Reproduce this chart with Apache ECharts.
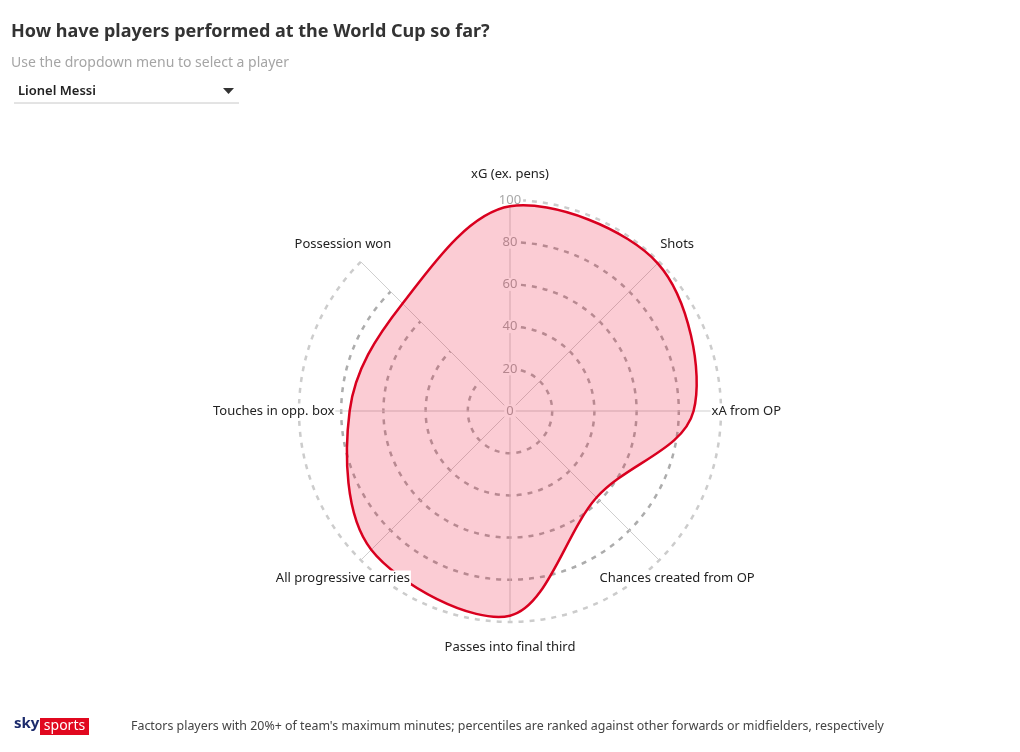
<!DOCTYPE html>
<html>
<head>
<meta charset="utf-8">
<script src="https://cdn.jsdelivr.net/npm/echarts@6/dist/echarts.min.js"></script>
<style>
  html, body { margin: 0; padding: 0; background: #fff; }
  #chart { width: 1020px; height: 752px; }
</style>
</head>
<body>
<div id="chart"></div>
<script>
// percentiles for Lionel Messi, read clockwise from the top
var categories = ['xG (ex. pens)', 'Shots', 'xA from OP', 'Chances created from OP',
  'Passes into final third', 'All progressive carries', 'Touches in opp. box', 'Possession won'];
var values = [97, 99, 87, 58, 97, 93, 76, 72];
var radiusTicks = [0, 20, 40, 60, 80, 100];

var font = "'Noto Sans', 'Open Sans', sans-serif";
var chart = echarts.init(document.getElementById('chart'));

// closed catmull-rom through the projected points
function closedCurve(pts) {
  var n = pts.length;
  var d = 'M' + pts[0][0] + ',' + pts[0][1];
  for (var i = 0; i < n; i++) {
    var p0 = pts[(i - 1 + n) % n], p1 = pts[i], p2 = pts[(i + 1) % n], p3 = pts[(i + 2) % n];
    var c1x = p1[0] + (p2[0] - p0[0]) / 6, c1y = p1[1] + (p2[1] - p0[1]) / 6;
    var c2x = p2[0] - (p3[0] - p1[0]) / 6, c2y = p2[1] - (p3[1] - p1[1]) / 6;
    d += 'C' + c1x + ',' + c1y + ' ' + c2x + ',' + c2y + ' ' + p2[0] + ',' + p2[1];
  }
  return d + 'Z';
}

var option = {
  backgroundColor: '#fff',
  animation: false,
  title: {
    text: 'How have players performed at the World Cup so far?',
    subtext: 'Use the dropdown menu to select a player',
    left: 6,
    top: 18,
    itemGap: 15,
    textStyle: { fontFamily: font, fontSize: 18, fontWeight: 'bold', color: '#333' },
    subtextStyle: { fontFamily: font, fontSize: 14, color: '#a5a5a5' }
  },
  polar: { center: [510, 411], radius: 211 },
  angleAxis: {
    type: 'category',
    data: categories,
    startAngle: 90,
    boundaryGap: false,
    axisLine: { show: false },
    axisTick: { show: false },
    axisLabel: { show: false },
    splitLine: { show: true, lineStyle: { color: '#cfcfcf', width: 1 } }
  },
  radiusAxis: {
    type: 'value',
    min: radiusTicks[0],
    max: radiusTicks[radiusTicks.length - 1],
    interval: 20,
    axisLine: { show: false },
    axisTick: { show: false },
    axisLabel: {
      margin: 0,
      align: 'center',
      verticalAlign: 'middle',
      color: '#a8a8a8',
      fontFamily: font,
      fontSize: 13,
      backgroundColor: '#fff',
      padding: [0, 2]
    },
    splitLine: {
      show: true,
      lineStyle: {
        color: ['#acacac', '#acacac', '#acacac', '#acacac', '#acacac', '#cccccc'],
        width: 2.5,
        type: [5, 6]
      }
    }
  },
  series: [{
    type: 'custom',
    coordinateSystem: 'polar',
    data: values.map(function (v, i) { return [v, i]; }),
    encode: { radius: 0, angle: 1 },
    renderItem: function (params, api) {
      if (params.dataIndex !== 0) return null;
      var pts = values.map(function (v, i) { return api.coord([v, i]); });
      var children = [{
        type: 'path',
        shape: { pathData: closedCurve(pts) },
        style: { fill: 'rgba(233, 0, 40, 0.2)', stroke: '#d9001f', lineWidth: 2.5 }
      }];
      categories.forEach(function (name, i) {
        var p = api.coord([112, i]);
        children.push({
          type: 'text',
          x: p[0], y: p[1],
          style: {
            text: name,
            align: 'center',
            verticalAlign: 'middle',
            fill: '#222',
            font: '13px ' + font,
            backgroundColor: '#fff',
            padding: [1, 1]
          }
        });
      });
      return { type: 'group', children: children };
    }
  }],
  graphic: [
    { type: 'text', left: 18, top: 85, style: { text: 'Lionel Messi', font: '600 13px ' + font, fill: '#222' } },
    { type: 'polygon', shape: { points: [[223, 88], [234, 88], [228.5, 94]] }, style: { fill: '#333' } },
    { type: 'line', shape: { x1: 14, y1: 103, x2: 239, y2: 103 }, style: { stroke: '#c8c8c8', lineWidth: 1 } },
    { type: 'text', left: 14, top: 716, style: { text: 'sky', font: 'bold 15px ' + font, fill: '#1b2a6b' } },
    { type: 'rect', shape: { x: 40, y: 718, width: 49, height: 17 }, style: { fill: '#e1081f' } },
    { type: 'text', x: 64.5, y: 726.5, style: { text: 'sports', font: '14px ' + font, fill: '#fff', align: 'center', verticalAlign: 'middle' } },
    { type: 'text', left: 131, top: 720, style: {
      text: "Factors players with 20%+ of team's maximum minutes; percentiles are ranked against other forwards or midfielders, respectively",
      font: '12.4px ' + font, fill: '#444' } }
  ]
};

chart.setOption(option);
window.addEventListener('resize', function () { chart.resize(); });
</script>
</body>
</html>
